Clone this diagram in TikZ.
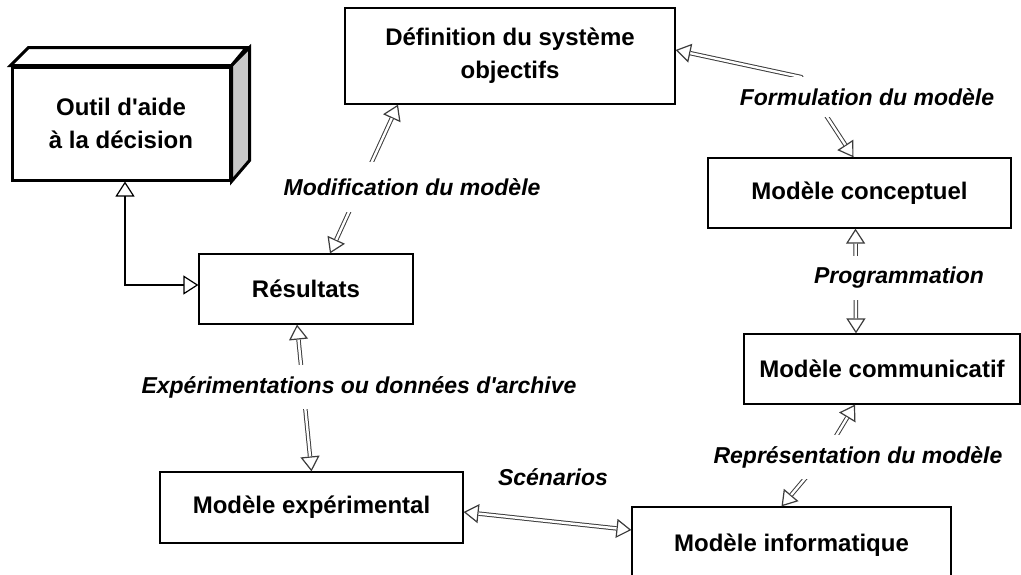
\documentclass[tikz,border=0pt]{standalone}
\usepackage{fontspec}
\setmainfont{Liberation Sans}
\usetikzlibrary{arrows.meta}
\definecolor{SideGray}{HTML}{C8C8C8}
\definecolor{LinkGray}{HTML}{3C3C3C}

\begin{document}
\begin{tikzpicture}[x=0.5pt,y=-0.5pt,
    box/.style 2 args={draw,line width=0.6pt,minimum width=#1,minimum height=#2,inner sep=0pt,align=center,font=\bfseries\fontsize{12}{16.5}\selectfont},
    lab/.style={fill=white,inner xsep=3pt,inner ysep=5.5pt,font=\bfseries\itshape\fontsize{11.5}{14}\selectfont},
    >={Triangle[open,fill=white,length=7.5pt,width=9.5pt,line width=0.6pt]},
    link/.style={<->,draw=LinkGray,line width=0.5pt,postaction={draw=LinkGray,-,double=white,double distance=1.2pt,line width=0.5pt,shorten <=7.5pt,shorten >=7.5pt}},
    toollink/.style={<->,line width=1.2pt}]
        \clip (0,0) rectangle (1021,574);
        \node[box={165pt}{48pt}] (def) at (510,56) {Définition du système\\objectifs};
        \node[box={109pt}{56.5pt},line width=1.5pt] (outil) at (121,123.5) {Outil d\textquotesingle aide\\à la décision};
        \draw[line width=1.5pt,fill=SideGray] (outil.north east) -- ++(18,-18) -- ++(0,113) -- (outil.south east) -- cycle;
        \draw[line width=1.5pt,fill=white] (outil.north west) -- ++(18,-18) -- ++(218,0) -- (outil.north east) -- cycle;
        \node[box={107pt}{35pt}] (res) at (306,289) {Résultats};
        \node[box={151.5pt}{35pt}] (conc) at (859.5,193) {Modèle conceptuel};
        \node[box={138pt}{35pt}] (comm) at (882,369) {Modèle communicatif};
        \node[box={151.5pt}{35.5pt}] (exp) at (311.5,507.5) {Modèle expérimental};
        \node[box={159.5pt}{38pt}] (info) at (791.5,545) {Modèle informatique};
        \coordinate (fbend) at (801,77);
        \coordinate (rbend) at (824,456);
        \draw[toollink] ([xshift=2pt]outil.south) |- ([yshift=2pt]res.west);
        \draw[link] ([xshift=-56pt]def.south) -- ([xshift=12pt]res.north);
        \draw[link] ([yshift=3pt]def.east) -- (fbend) -- ([xshift=-3pt]conc.north);
        \draw[link] ([xshift=-2pt]conc.south) -- ([xshift=-13pt]comm.north);
        \draw[link] ([xshift=-13.5pt]comm.south) -- (rbend) -- ([xshift=-5pt]info.north);
        \draw[link] ([xshift=-4.5pt]res.south) -- (exp.north);
        \draw[link] ([yshift=-2.25pt]exp.east) -- ([yshift=7.5pt]info.west);
        \node[lab,inner ysep=8pt] (modif) at (412,187) {Modification du modèle};
        \node[lab] (formul) at (867,97) {Formulation du modèle};
        \node[lab] (progr) at (899,278) {Programmation};
        \node[lab] (repres) at (858,457) {Représentation du modèle};
        \node[lab] (experim) at (359,387) {Expérimentations ou données d\textquotesingle archive};
        \node[lab] (scen) at (553,477) {Scénarios};
\end{tikzpicture}
\end{document}
